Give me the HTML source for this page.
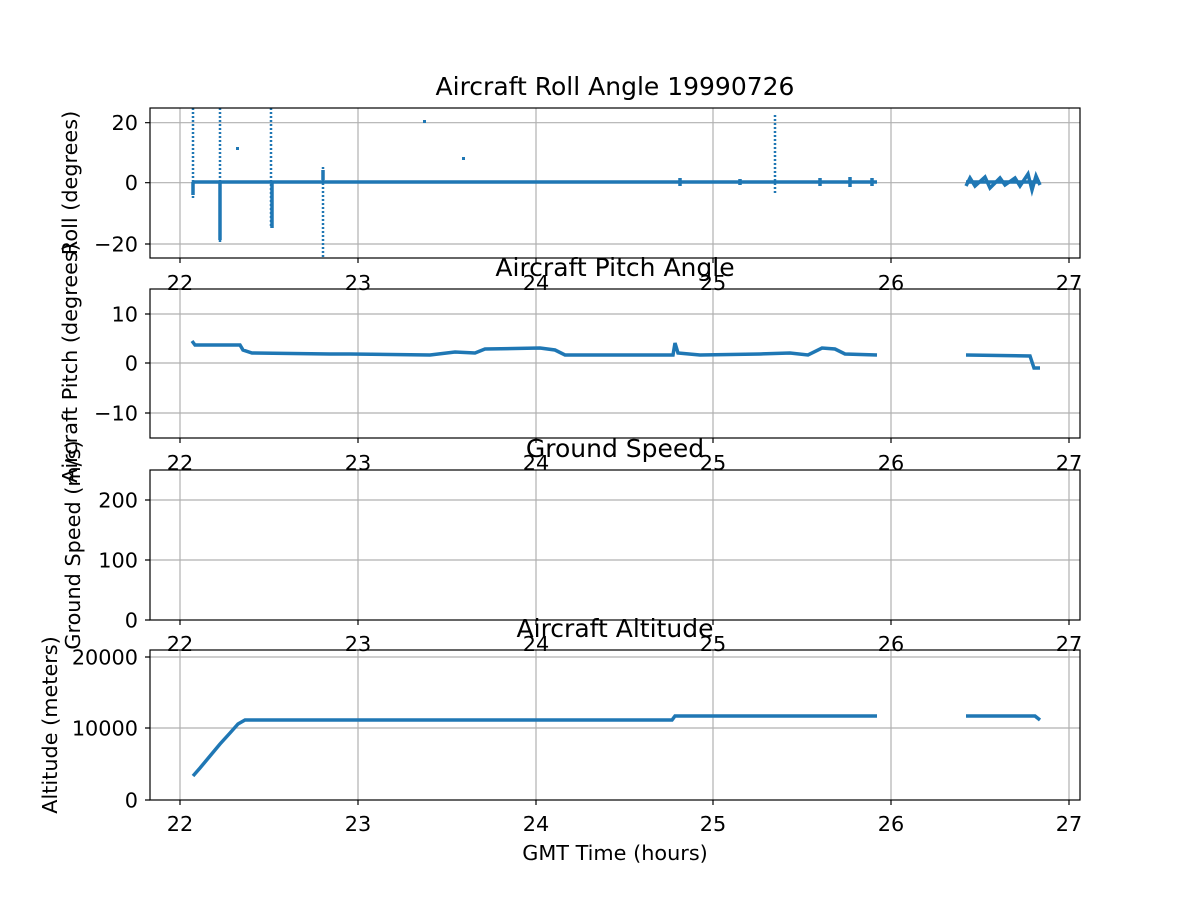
<!DOCTYPE html>
<html><head><meta charset="utf-8"><style>
body{margin:0;background:#fff}
svg{display:block}
text{font-family:"DejaVu Sans","Liberation Sans",sans-serif;fill:#000}
.t{font-size:20.8px}
.ti{font-size:25px}
.g{stroke:#b0b0b0;stroke-width:1.2}
.d{stroke:#1f77b4;fill:none;stroke-width:3.5}
.dd{stroke:#1f77b4;fill:none;stroke-width:2.5;stroke-dasharray:2 2}
.ax{fill:none;stroke:#000;stroke-width:1.2}
</style></head><body>
<svg width="1200" height="900" viewBox="0 0 1200 900">
<rect width="1200" height="900" fill="#fff"/>
<g class="g">
<path d="M180 108V258M358 108V258M536 108V258M713 108V258M891 108V258M1069 108V258"/>
<path d="M180 289V438M358 289V438M536 289V438M713 289V438M891 289V438M1069 289V438"/>
<path d="M180 470V620M358 470V620M536 470V620M713 470V620M891 470V620M1069 470V620"/>
<path d="M180 650V800M358 650V800M536 650V800M713 650V800M891 650V800M1069 650V800"/>
<path d="M150 122.7H1080M150 182.7H1080M150 244H1080"/>
<path d="M150 314H1080M150 363H1080M150 413H1080"/>
<path d="M150 500H1080M150 560H1080"/>
<path d="M150 657H1080M150 728H1080"/>
</g>
<path class="dd" d="M193 108V198M220 108V242M271 108V228M323 167V258M775 115V193"/>
<path class="d" stroke-width="4.5" d="M194 182H877M966 182H1040"/>
<path class="d" stroke-width="1.5" d="M680 178V186M740 179V185M820 178V186M850 177V187M872 178V186"/>
<path class="d" d="M193 182V195M220 182V240M272 182V228M323 180V170" stroke-width="2.5"/>
<path class="d" stroke-width="1.5" d="M966 186L970 178L975 186L985 177L990 188L1000 178L1005 185L1015 178L1020 186L1028 174L1032 190L1036 176L1040 185"/>
<rect x="236" y="147" width="3" height="3" fill="#1f77b4"/>
<rect x="423" y="120" width="3" height="3" fill="#1f77b4"/>
<rect x="462" y="157" width="3" height="3" fill="#1f77b4"/>
<path class="d" d="M192 341L195 345L240 345L243 350L252 353L330 354L350 354L430 355L455 352L475 353L485 349L540 348L555 350L565 355L673 355L675 343L678 353L700 355L760 354L790 353L808 355L822 348L835 349L845 354L877 355"/>
<path class="d" d="M966 355L1030 356L1034 368L1040 368"/>
<path class="d" d="M193 776L200 768L210 756L220 744L230 733L238 724L245 720L672 720L675 716L877 716"/>
<path class="d" d="M966 716L1035 716L1040 720"/>
<rect class="ax" x="150" y="108" width="930" height="150"/>
<rect class="ax" x="150" y="289" width="930" height="149"/>
<rect class="ax" x="150" y="470" width="930" height="150"/>
<rect class="ax" x="150" y="650" width="930" height="150"/>
<g stroke="#000" stroke-width="1.2">
<path d="M180 258v5M358 258v5M536 258v5M713 258v5M891 258v5M1069 258v5"/>
<path d="M180 438v5M358 438v5M536 438v5M713 438v5M891 438v5M1069 438v5"/>
<path d="M180 620v5M358 620v5M536 620v5M713 620v5M891 620v5M1069 620v5"/>
<path d="M180 800v5M358 800v5M536 800v5M713 800v5M891 800v5M1069 800v5"/>
<path d="M150 122.7h-5M150 182.7h-5M150 244h-5M150 314h-5M150 363h-5M150 413h-5M150 500h-5M150 560h-5M150 620h-5M150 657h-5M150 728h-5M150 800h-5"/>
</g>
<g class="t" text-anchor="middle">
<text x="180" y="290">22</text><text x="358" y="290">23</text><text x="536" y="290">24</text><text x="713" y="290">25</text><text x="891" y="290">26</text><text x="1069" y="290">27</text>
<text x="180" y="470">22</text><text x="358" y="470">23</text><text x="536" y="470">24</text><text x="713" y="470">25</text><text x="891" y="470">26</text><text x="1069" y="470">27</text>
<text x="180" y="651">22</text><text x="358" y="651">23</text><text x="536" y="651">24</text><text x="713" y="651">25</text><text x="891" y="651">26</text><text x="1069" y="651">27</text>
<text x="180" y="831">22</text><text x="358" y="831">23</text><text x="536" y="831">24</text><text x="713" y="831">25</text><text x="891" y="831">26</text><text x="1069" y="831">27</text>
</g>
<g class="t" text-anchor="end">
<text x="138" y="130.2">20</text><text x="138" y="190.2">0</text><text x="138" y="251.5">−20</text>
<text x="138" y="321.5">10</text><text x="138" y="370.5">0</text><text x="138" y="420.5">−10</text>
<text x="138" y="507.5">200</text><text x="138" y="567.5">100</text><text x="138" y="627.5">0</text>
<text x="138" y="664.5">20000</text><text x="138" y="735.5">10000</text><text x="138" y="807.5">0</text>
</g>
<g class="ti" text-anchor="middle">
<text x="615" y="95">Aircraft Roll Angle 19990726</text>
<text x="615" y="276">Aircraft Pitch Angle</text>
<text x="615" y="457">Ground Speed</text>
<text x="615" y="637">Aircraft Altitude</text>
</g>
<g class="t" text-anchor="middle">
<text x="615" y="860">GMT Time (hours)</text>
<text transform="translate(77 183) rotate(-90)">Roll (degrees)</text>
<text transform="translate(77 363) rotate(-90)">Aircraft Pitch (degrees)</text>
<text transform="translate(80 545) rotate(-90)">Ground Speed (m/s)</text>
<text transform="translate(57 725) rotate(-90)">Altitude (meters)</text>
</g>
</svg>
</body></html>
